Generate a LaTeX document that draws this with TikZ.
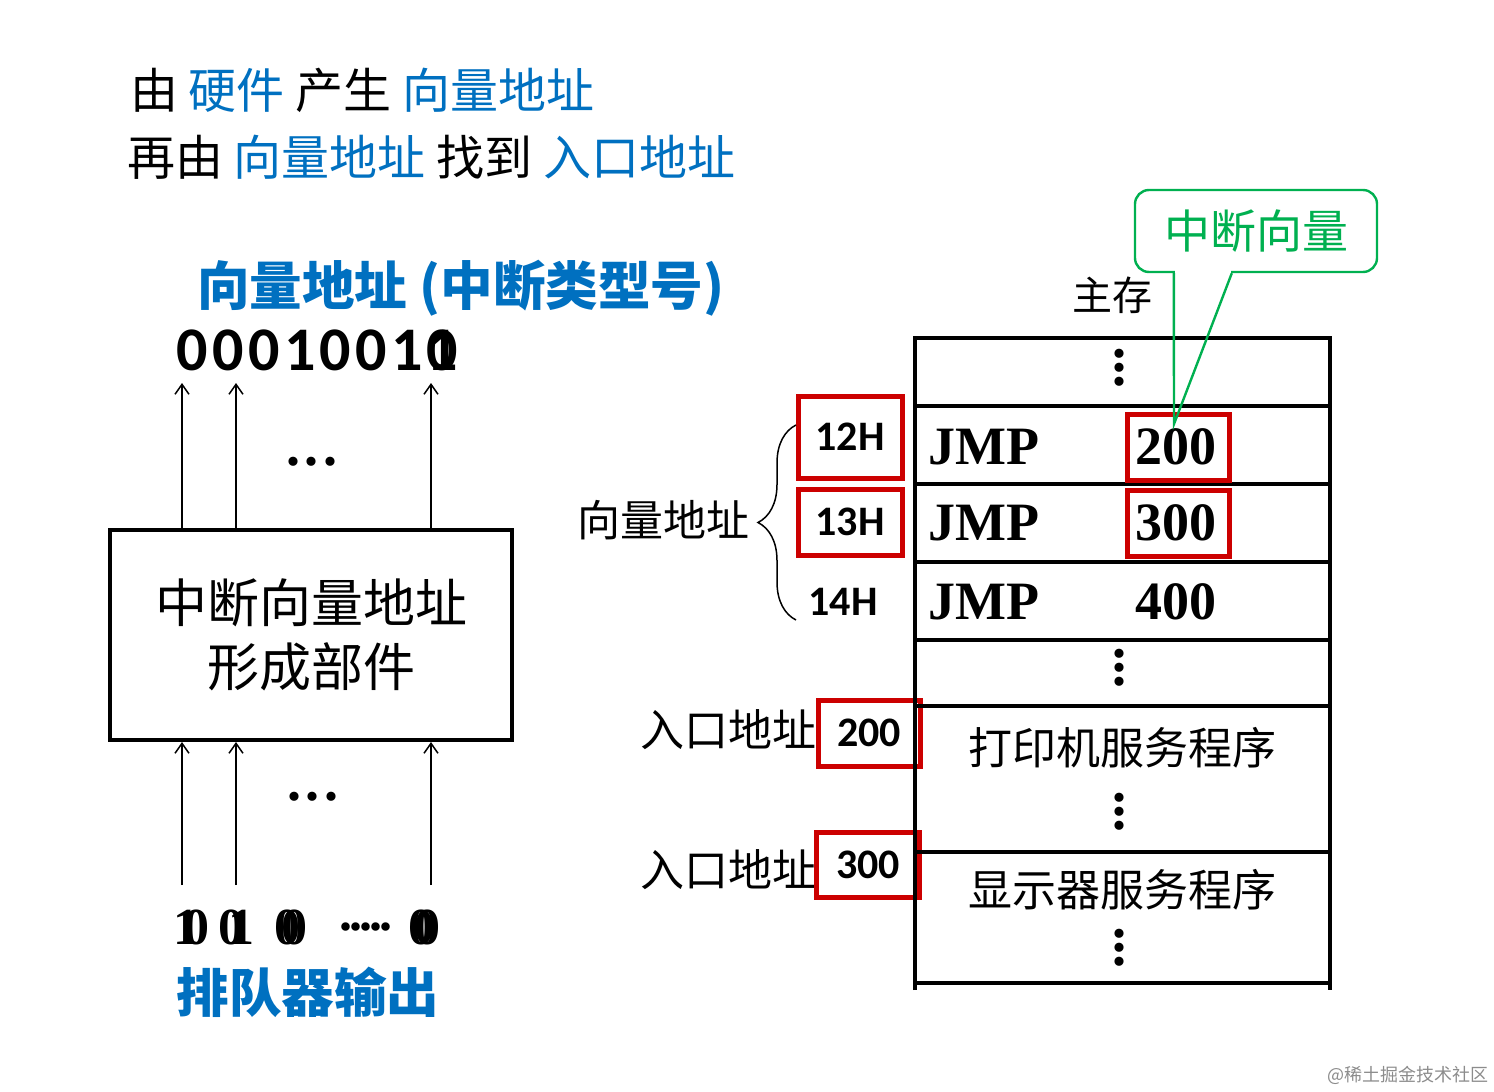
\documentclass[tikz,border=0pt]{standalone}
\usepackage{fontspec}
\setmainfont{Liberation Serif}
\newfontfamily\cjk{Noto Sans CJK SC}
\newfontfamily\cali{Carlito}
\usetikzlibrary{arrows.meta,decorations.pathreplacing,calc}
\definecolor{vblue}{RGB}{0,112,192}
\definecolor{cgreen}{RGB}{0,176,80}
\definecolor{mred}{RGB}{204,0,0}
\newcommand{\fsz}[1]{\fontsize{#1}{#1}\selectfont}
\newcommand{\vdts}{\vbox{\baselineskip=7pt\lineskiplimit=-20pt\hbox{.}\hbox{.}\hbox{.}}}

\begin{document}
\begin{tikzpicture}[x=0.5pt,y=-0.5pt,>={Straight Barb[length=5pt,width=7pt]},
  cn/.style={font=\cjk\fsz{22}},
  bl/.style={text=vblue,font=\cjk\bfseries\fsz{26.3}},
  hx/.style={font=\cali\bfseries\fsz{21}},
  tm/.style={font=\bfseries\fsz{27}},
  td/.style={font=\cali\bfseries\fsz{31},inner sep=0pt},
  bd/.style={font=\bfseries\fsz{26},inner sep=0pt},
  rbox/.style={draw=mred,line width=2.5pt,inner sep=0pt},
  dts/.style={font=\bfseries\fsz{28},inner sep=0pt},
  wire/.style={line width=0.75pt}]
  \useasboundingbox (0,0) rectangle (1494,1092);

  % the two lines of text at the top
  \node[anchor=west,font=\cjk\fsz{24}] (l1) at (123,90)
    {由 \textcolor{vblue}{硬件} 产生 \textcolor{vblue}{向量地址}};
  \node[anchor=west,font=\cjk\fsz{24}] (l2) at (120,157)
    {再由 \textcolor{vblue}{向量地址} 找到 \textcolor{vblue}{入口地址}};

  % left part: the unit that forms the vector address
  \node[bl,anchor=west] (vt) at (190,288) {向量地址 (中断类型号)};
  \foreach \d [count=\i] in {0,0,0,1,0,0,1,0}
    \node[td] (b\i) at ({157+35.7*\i},350) {\d};
  \node[td] (b9) at (b8) {1};

  \node[draw,line width=2pt,minimum width=201pt,minimum height=105pt,align=center,
        font=\cjk\fontsize{26}{32}\selectfont] (fm) at (311,635) {中断向量地址\\形成部件};

  \foreach \x [count=\i] in {182,236,431}{
    \coordinate (u\i) at (\x,383);
    \coordinate (d\i) at (\x,885);
    \draw[wire,->] (fm.north -| u\i) -- (u\i);
    \draw[wire,->] (d\i) -- (d\i |- fm.south);
  }
  \node[dts] (hd1) at (312,462) {.\kern2.5pt.\kern2.5pt.};
  \node[dts] (hd2) at (313,797) {.\kern2.5pt.\kern2.5pt.};

  \foreach \a/\b/\xa/\xb [count=\i] in {1/0/186/196,0/1/231/241,0/0/287/294,0/0/421/427}{
    \node[bd] (qa\i) at (\xa,927) {\a};
    \node[bd] (qb\i) at (\xb,927) {\b};
  }
  \node[bd] (qd) at (366,927) {.\kern-1.5pt.\kern-1.5pt.\kern-1.5pt.\kern-1.5pt.};
  \node[bl] (qo) at (308,992) {排队器输出};

  % right part: main memory
  \node[font=\cjk\fsz{20}] (ms) at (1112,295) {主存};

  \node[hx,rbox,minimum width=52pt,minimum height=41pt] (h12) at (850,437) {12H};
  \node[hx,rbox,minimum width=52pt,minimum height=33pt] (h13) at (850,522) {13H};
  \node[hx] (h14) at (843,602) {14H};
  \node[cn,font=\cjk\fsz{21.5}] (va) at (663,520) {向量地址};
  \draw[wire,decorate,decoration={brace,amplitude=19pt}] (796,620) -- (796,425);

  \node[cn] (ea1) at (728,730) {入口地址};
  \node[cn] (ea2) at (728,870) {入口地址};
  \node[hx,rbox,minimum width=51pt,minimum height=33pt] (e200) at (869,733) {200};
  \node[hx,rbox,minimum width=51.5pt,minimum height=32.5pt] (e300) at (868,865) {300};

  \draw[line width=2pt] (915,990) -- (915,338) -- (1330,338) -- (1330,990);
  \foreach \y in {406,484,562,640,706,852,983}
    \draw[line width=2pt] (915,\y) -- (1330,\y);

  \foreach \y/\v [count=\i] in {447/200,523/300,602/400}{
    \node[tm,anchor=west] (jm\i) at (921,\y) {JMP};
    \node[tm] (jv\i) at (1176,\y) {\v};
  }
  \node[rbox,minimum width=51pt,minimum height=33pt] (r200) at (1178,447) {};
  \node[rbox,minimum width=51pt,minimum height=33pt] (r300) at (1178,523) {};

  \foreach \y [count=\i] in {368,668,812,948}
    \node[dts] (vd\i) at (1119,\y) {\vdts};
  \node[cn] (pr) at (1122,748) {打印机服务程序};
  \node[cn] (dp) at (1122,890) {显示器服务程序};

  % callout naming the interrupt vector
  \node[draw=cgreen,line width=1.2pt,rounded corners=7pt,minimum width=121pt,
        minimum height=41pt,text=cgreen,font=\cjk\fsz{23}] (cv) at (1256,231) {中断向量};
  \coordinate (tip) at (1174,424);
  \fill[white] ($(cv.south west)+(41,-4)$) rectangle ($(cv.south west)+(97,4)$);
  \draw[cgreen,line width=1.2pt] ($(cv.south west)+(40,0)$) -- (tip) -- ($(cv.south west)+(98,0)$);

  \node[text=black!45,font=\cjk\fsz{9}] (wm) at (1408,1075) {@稀土掘金技术社区};
\end{tikzpicture}
\end{document}
